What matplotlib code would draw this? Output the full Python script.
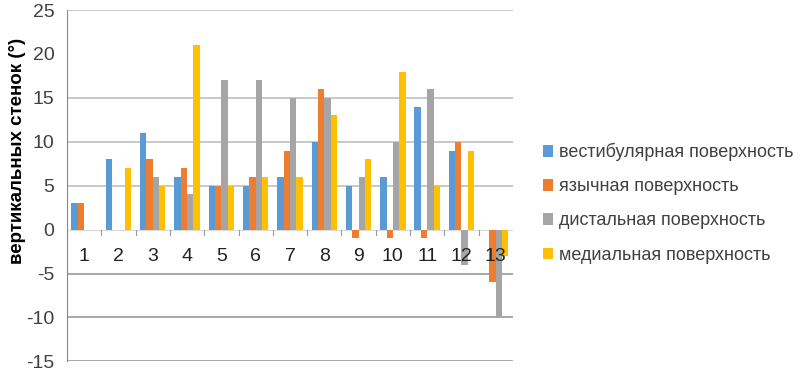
import numpy as np
import matplotlib
matplotlib.use("Agg")
import matplotlib.pyplot as plt

categories = ["1", "2", "3", "4", "5", "6", "7", "8", "9", "10", "11", "12", "13"]
series_names = ["вестибулярная поверхность", "язычная поверхность",
                "дистальная поверхность", "медиальная поверхность"]
vestibular = [3, 8, 11, 6, 5, 5, 6, 10, 5, 6, 14, 9, 0]
lingual = [3, 0, 8, 7, 5, 6, 9, 16, -1, -1, -1, 10, -6]
distal = [0, 0, 6, 4, 17, 17, 15, 15, 6, 10, 16, -4, -10]
medial = [0, 7, 5, 21, 5, 6, 6, 13, 8, 18, 5, 9, -3]
yticks = [-15, -10, -5, 0, 5, 10, 15, 20, 25]
gridlines = [-15, -10, -5, 5, 10, 15, 25]
ylabel = "вертикальных стенок (°)"

colors = ["#5B9BD5", "#ED7D31", "#A5A5A5", "#FFC000"]
plt.rcParams['font.family'] = ['Liberation Sans', 'DejaVu Sans']
plt.rcParams['axes.unicode_minus'] = False

fig = plt.figure(figsize=(8.06, 3.71), dpi=100)
ax = fig.add_axes([0.0831, 0.026, 0.5533, 0.947])

x = np.arange(len(categories))
w = 0.185
data = [vestibular, lingual, distal, medial]
for i, (vals, name, c) in enumerate(zip(data, series_names, colors)):
    ax.bar(x + (i - 1.5) * w, vals, w, color=c, label=name, zorder=2)

for g in gridlines:
    ax.axhline(g, color="#BFBFBF" if g > 0 else "#999999", lw=1.2, zorder=0)
ax.axhline(0, color="#D9D9D9", lw=0.8, zorder=1)

ax.set_xlim(-0.5, len(categories) - 0.5)
ax.set_ylim(-15, 25)
ax.set_yticks(yticks)
ax.tick_params(axis="y", length=0, labelsize=14, colors="#404040", pad=9)
ax.set_xticks([])

# tick marks at category boundaries on the zero line
for b in np.arange(0.5, len(categories) - 0.5, 1):
    ax.plot([b, b], [0, -0.6], color="#999999", lw=0.8, zorder=1)

for xi, lab in zip(x, categories):
    ax.text(xi, -3.1, lab, ha="center", va="center", fontsize=14,
            color="#222222", zorder=5)

for s in ["top", "right", "bottom"]:
    ax.spines[s].set_visible(False)
ax.spines["left"].set_color("#888888")

ax.set_ylabel(ylabel, fontsize=13.5, fontweight="bold")
ax.yaxis.set_label_coords(-0.092, 0.6)

ax.legend(loc="center left", bbox_to_anchor=(1.03, 0.45), frameon=False,
          fontsize=13, handlelength=0.6, handleheight=0.6, handletextpad=0.3,
          labelspacing=0.95, labelcolor="#404040")

fig.savefig("out.png", dpi=100)
